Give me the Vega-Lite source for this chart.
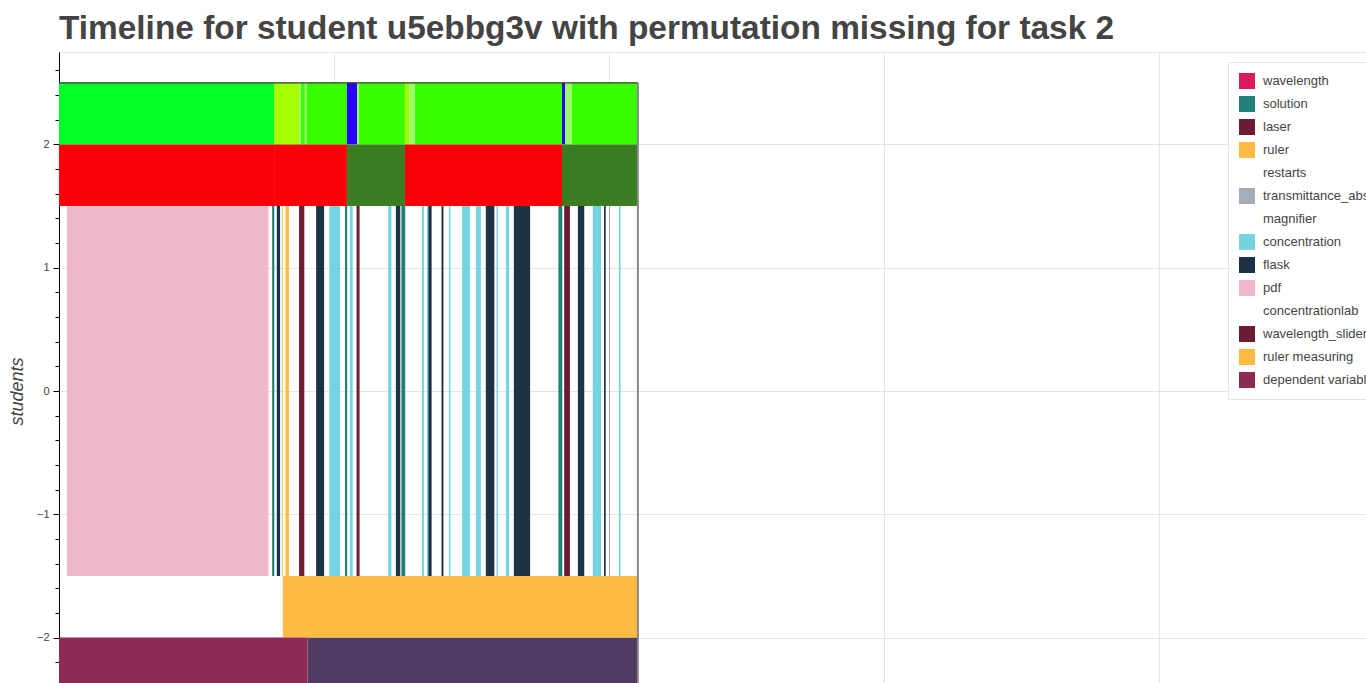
{
  "$schema": "https://vega.github.io/schema/vega-lite/v6.json",
  "autosize": {"type": "none"},
  "padding": {"left": 59, "top": 52, "right": 0, "bottom": 60},
  "width": 1375,
  "height": 678,
  "background": "white",
  "title": {
    "text": "Timeline for student u5ebbg3v with permutation missing for task 2",
    "anchor": "start",
    "frame": "group",
    "font": "Liberation Sans",
    "fontSize": 33.4,
    "fontWeight": "bold",
    "color": "#444444",
    "offset": 6
  },
  "config": {
    "font": "Liberation Sans",
    "view": {"stroke": "#e5e5e5"}
  },
  "datasets": {
    "bands": [
      {"state": "phase A", "start": 0, "end": 782, "y0": 2, "y1": 2.5},
      {"state": "phase B", "start": 782, "end": 874, "y0": 2, "y1": 2.5},
      {"state": "transition", "start": 874, "end": 880, "y0": 2, "y1": 2.5},
      {"state": "phase C", "start": 880, "end": 894, "y0": 2, "y1": 2.5},
      {"state": "transition", "start": 894, "end": 900, "y0": 2, "y1": 2.5},
      {"state": "phase C", "start": 900, "end": 1047, "y0": 2, "y1": 2.5},
      {"state": "pause", "start": 1047, "end": 1084, "y0": 2, "y1": 2.5},
      {"state": "transition", "start": 1084, "end": 1091, "y0": 2, "y1": 2.5},
      {"state": "phase C", "start": 1091, "end": 1258, "y0": 2, "y1": 2.5},
      {"state": "phase B", "start": 1258, "end": 1273, "y0": 2, "y1": 2.5},
      {"state": "transition", "start": 1273, "end": 1294, "y0": 2, "y1": 2.5},
      {"state": "phase C", "start": 1294, "end": 1829, "y0": 2, "y1": 2.5},
      {"state": "pause", "start": 1829, "end": 1840, "y0": 2, "y1": 2.5},
      {"state": "transition", "start": 1840, "end": 1865, "y0": 2, "y1": 2.5},
      {"state": "phase C", "start": 1865, "end": 2105, "y0": 2, "y1": 2.5},
      {"state": "incorrect", "start": 0, "end": 782, "y0": 1.5, "y1": 2},
      {"state": "incorrect", "start": 782, "end": 1047, "y0": 1.5, "y1": 2},
      {"state": "correct", "start": 1047, "end": 1258, "y0": 1.5, "y1": 2},
      {"state": "incorrect", "start": 1258, "end": 1829, "y0": 1.5, "y1": 2},
      {"state": "correct", "start": 1829, "end": 2105, "y0": 1.5, "y1": 2},
      {"state": "independent variable", "start": 904, "end": 2105, "y0": -2.75, "y1": -2}
    ],
    "tools": [
      {"tool": "pdf", "start": 29, "end": 762, "y0": -1.5, "y1": 1.5},
      {"tool": "solution", "start": 775, "end": 783, "y0": -1.5, "y1": 1.5},
      {"tool": "flask", "start": 792, "end": 804, "y0": -1.5, "y1": 1.5},
      {"tool": "ruler", "start": 811, "end": 814, "y0": -1.5, "y1": 1.5},
      {"tool": "ruler", "start": 824, "end": 836, "y0": -1.5, "y1": 1.5},
      {"tool": "laser", "start": 873, "end": 892, "y0": -1.5, "y1": 1.5},
      {"tool": "flask", "start": 935, "end": 964, "y0": -1.5, "y1": 1.5},
      {"tool": "concentration", "start": 983, "end": 1022, "y0": -1.5, "y1": 1.5},
      {"tool": "solution", "start": 1040, "end": 1048, "y0": -1.5, "y1": 1.5},
      {"tool": "concentration", "start": 1058, "end": 1068, "y0": -1.5, "y1": 1.5},
      {"tool": "wavelength_slider", "start": 1082, "end": 1093, "y0": -1.5, "y1": 1.5},
      {"tool": "concentration", "start": 1197, "end": 1209, "y0": -1.5, "y1": 1.5},
      {"tool": "flask", "start": 1225, "end": 1241, "y0": -1.5, "y1": 1.5},
      {"tool": "solution", "start": 1245, "end": 1259, "y0": -1.5, "y1": 1.5},
      {"tool": "concentration", "start": 1320, "end": 1327, "y0": -1.5, "y1": 1.5},
      {"tool": "concentration", "start": 1338, "end": 1343, "y0": -1.5, "y1": 1.5},
      {"tool": "flask", "start": 1343, "end": 1355, "y0": -1.5, "y1": 1.5},
      {"tool": "flask", "start": 1391, "end": 1398, "y0": -1.5, "y1": 1.5},
      {"tool": "concentration", "start": 1418, "end": 1423, "y0": -1.5, "y1": 1.5},
      {"tool": "concentration", "start": 1466, "end": 1494, "y0": -1.5, "y1": 1.5},
      {"tool": "concentration", "start": 1516, "end": 1534, "y0": -1.5, "y1": 1.5},
      {"tool": "flask", "start": 1552, "end": 1583, "y0": -1.5, "y1": 1.5},
      {"tool": "concentration", "start": 1591, "end": 1596, "y0": -1.5, "y1": 1.5},
      {"tool": "concentration", "start": 1625, "end": 1637, "y0": -1.5, "y1": 1.5},
      {"tool": "flask", "start": 1654, "end": 1713, "y0": -1.5, "y1": 1.5},
      {"tool": "solution", "start": 1816, "end": 1830, "y0": -1.5, "y1": 1.5},
      {"tool": "laser", "start": 1837, "end": 1858, "y0": -1.5, "y1": 1.5},
      {"tool": "flask", "start": 1887, "end": 1910, "y0": -1.5, "y1": 1.5},
      {"tool": "concentration", "start": 1941, "end": 1971, "y0": -1.5, "y1": 1.5},
      {"tool": "flask", "start": 1982, "end": 1988, "y0": -1.5, "y1": 1.5},
      {"tool": "transmittance_absorbance", "start": 2000, "end": 2004, "y0": -1.5, "y1": 1.5},
      {"tool": "concentration", "start": 2036, "end": 2042, "y0": -1.5, "y1": 1.5},
      {"tool": "ruler measuring", "start": 814, "end": 2105, "y0": -2, "y1": -1.5},
      {"tool": "dependent variable", "start": 0, "end": 904, "y0": -2.75, "y1": -2}
    ],
    "hlines": [
      {"start": 0, "end": 2105, "y": 2.5}
    ],
    "vlines": [
      {"x": 2105, "y0": 2.5, "y1": -2.75}
    ]
  },
  "layer": [
    {
      "data": {"name": "bands"},
      "mark": {"type": "rect"},
      "encoding": {
        "x": {
          "field": "start", "type": "quantitative",
          "scale": {"domain": [0, 5000], "nice": false, "zero": false},
          "axis": {
            "title": null,
            "values": [1000, 2000, 3000, 4000],
            "labels": false,
            "gridColor": "#e5e5e5",
            "domainColor": "black",
            "tickColor": "black"
          }
        },
        "x2": {"field": "end"},
        "y": {
          "field": "y0", "type": "quantitative",
          "scale": {"domain": [-2.75, 2.75], "nice": false, "zero": false},
          "axis": {
            "title": "students",
            "values": [-2.6, -2.4, -2.2, -2, -1.8, -1.6, -1.4, -1.2, -1, -0.8, -0.6, -0.4, -0.2, 0, 0.2, 0.4, 0.6, 0.8, 1, 1.2, 1.4, 1.6, 1.8, 2, 2.2, 2.4, 2.6],
            "tickCount": 200,
            "labelOverlap": false,
            "labelExpr": "datum.value % 1 === 0 ? format(datum.value, 'd') : ''",
            "tickSize": {"condition": {"test": "datum.value % 1 !== 0", "value": 4}, "value": 6},
            "gridOpacity": {"condition": {"test": "datum.value % 1 !== 0", "value": 0}, "value": 1},
            "gridColor": "#e5e5e5",
            "domainColor": "black",
            "tickColor": "black",
            "labelColor": "#444444",
            "labelFontSize": 11,
            "labelPadding": 4,
            "titleFontStyle": "italic",
            "titleFontWeight": "normal",
            "titleFontSize": 18,
            "titleColor": "#444444",
            "titleX": -42,
            "titleY": 339,
            "titleAngle": 270,
            "titleAlign": "center",
            "titleBaseline": "middle"
          }
        },
        "y2": {"field": "y1"},
        "color": {
          "field": "state", "type": "nominal",
          "scale": {
            "domain": ["phase A", "phase B", "phase C", "transition", "pause", "incorrect", "correct", "independent variable"],
            "range": ["#00FF24", "#A6FF00", "#3AFF00", "#9AFF6A", "#2B00FF", "#FA0008", "#3A7D23", "#513B62"]
          },
          "legend": null
        }
      }
    },
    {
      "data": {"name": "tools"},
      "mark": {"type": "rect"},
      "encoding": {
        "x": {"field": "start", "type": "quantitative"},
        "x2": {"field": "end"},
        "y": {"field": "y0", "type": "quantitative"},
        "y2": {"field": "y1"},
        "color": {
          "field": "tool", "type": "nominal",
          "scale": {
            "domain": ["wavelength", "solution", "laser", "ruler", "restarts", "transmittance_absorbance", "magnifier", "concentration", "flask", "pdf", "concentrationlab", "wavelength_slider", "ruler measuring", "dependent variable"],
            "range": ["#D81B5C", "#20807A", "#6B1D33", "#FEBB43", "#FFFFFF", "#A3AEBB", "#FFFFFF", "#76D3E0", "#1D3245", "#EEB8CA", "#FFFFFF", "#6B1D33", "#FEBB43", "#8E2B54"]
          },
          "legend": {
            "title": null,
            "orient": "none",
            "legendX": 1169,
            "legendY": 10,
            "symbolType": "square",
            "symbolSize": 256,
            "symbolStrokeWidth": 0,
            "symbolOpacity": 1,
            "labelFontSize": 13,
            "labelColor": "#444444",
            "labelFont": "Liberation Sans",
            "labelOffset": 8,
            "labelLimit": 300,
            "rowPadding": 7,
            "padding": 11,
            "fillColor": "white",
            "strokeColor": "#e5e5e5"
          }
        }
      }
    },
    {
      "data": {"name": "hlines"},
      "mark": {"type": "rule", "color": "#333333", "strokeWidth": 1.2},
      "encoding": {
        "x": {"field": "start", "type": "quantitative"},
        "x2": {"field": "end"},
        "y": {"field": "y", "type": "quantitative"}
      }
    },
    {
      "data": {"name": "vlines"},
      "mark": {"type": "rule", "color": "#888888", "strokeWidth": 2},
      "encoding": {
        "x": {"field": "x", "type": "quantitative"},
        "y": {"field": "y0", "type": "quantitative"},
        "y2": {"field": "y1"}
      }
    }
  ],
  "resolve": {"scale": {"color": "independent"}}
}
